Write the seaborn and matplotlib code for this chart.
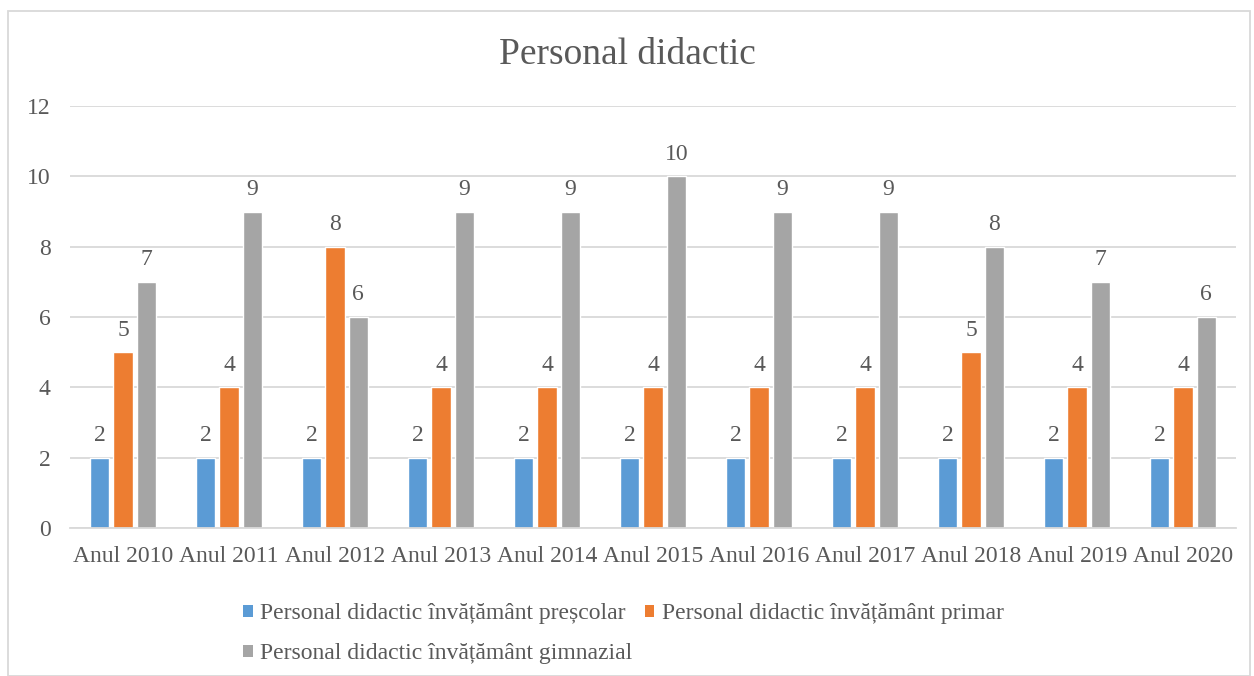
import matplotlib
matplotlib.use("Agg")
import matplotlib.pyplot as plt
import seaborn as sns
import pandas as pd
from matplotlib.patches import Rectangle, Patch

years = ["Anul 2010", "Anul 2011", "Anul 2012", "Anul 2013", "Anul 2014", "Anul 2015",
         "Anul 2016", "Anul 2017", "Anul 2018", "Anul 2019", "Anul 2020"]
prescolar = [2, 2, 2, 2, 2, 2, 2, 2, 2, 2, 2]
primar = [5, 4, 8, 4, 4, 4, 4, 4, 5, 4, 4]
gimnazial = [7, 9, 6, 9, 9, 10, 9, 9, 8, 7, 6]
series_names = ["Personal didactic învățământ preșcolar",
                "Personal didactic învățământ primar",
                "Personal didactic învățământ gimnazial"]
colors = ["#5B9BD5", "#ED7D31", "#A5A5A5"]
yticks = [0, 2, 4, 6, 8, 10, 12]

rows = []
for name, vals in zip(series_names, [prescolar, primar, gimnazial]):
    for y, v in zip(years, vals):
        rows.append({"An": y, "Serie": name, "Valoare": v})
df = pd.DataFrame(rows)

sns.set_theme(style="white")
plt.rcParams['font.family'] = ['Liberation Serif', 'DejaVu Serif']
text_color = "#595959"
fs = 17

fig = plt.figure(figsize=(12.54, 6.76), dpi=100)
ax = fig.add_axes([70/1254, 148/676, 1166/1254, 422/676])

sns.barplot(data=df, x="An", y="Valoare", hue="Serie", order=years, hue_order=series_names,
            palette=colors, width=0.66, gap=0.18, ax=ax, legend=False, saturation=1)

ax.set_ylim(0, 12)
ax.set_yticks(yticks)
ax.set_xlim(-0.5, len(years) - 0.5)
ax.yaxis.grid(True, color="#D9D9D9", linewidth=1.3)
ax.set_axisbelow(True)
for s in ["top", "right", "left"]:
    ax.spines[s].set_visible(False)
ax.spines["bottom"].set_color("#D9D9D9")
ax.spines["bottom"].set_linewidth(1.3)
ax.set_xlabel("")
ax.set_ylabel("")
ax.tick_params(axis="both", length=0, labelsize=fs, colors=text_color)
ax.tick_params(axis="x", pad=13)
ax.tick_params(axis="y", pad=14)

for cont in ax.containers:
    for bar in cont:
        h = bar.get_height()
        ax.annotate(f"{int(round(h))}", (bar.get_x() + bar.get_width() / 2, h),
                    xytext=(0, 12), textcoords="offset points", ha="center", va="baseline",
                    fontsize=fs, color=text_color)

fig.text(0.5, 1 - 55/676, "Personal didactic", ha="center", va="center",
         fontsize=27, color=text_color)

handles = [Patch(facecolor=c, edgecolor="none") for c in colors]
order = [0, 2, 1]
leg = fig.legend([handles[i] for i in order], [series_names[i] for i in order],
                 ncol=2, loc="upper left", bbox_to_anchor=(234/1254, 1 - 594/676),
                 frameon=False, fontsize=fs, handlelength=0.42, handleheight=0.42,
                 handletextpad=0.3, columnspacing=0.5, labelspacing=0.8, borderaxespad=0)
for t in leg.get_texts():
    t.set_color(text_color)

fig.patches.append(Rectangle((8/1254, 0), 1242/1254, 1 - 11/676, transform=fig.transFigure,
                             fill=False, edgecolor="#D9D9D9", linewidth=1.3))

fig.savefig("out.png", dpi=100)
